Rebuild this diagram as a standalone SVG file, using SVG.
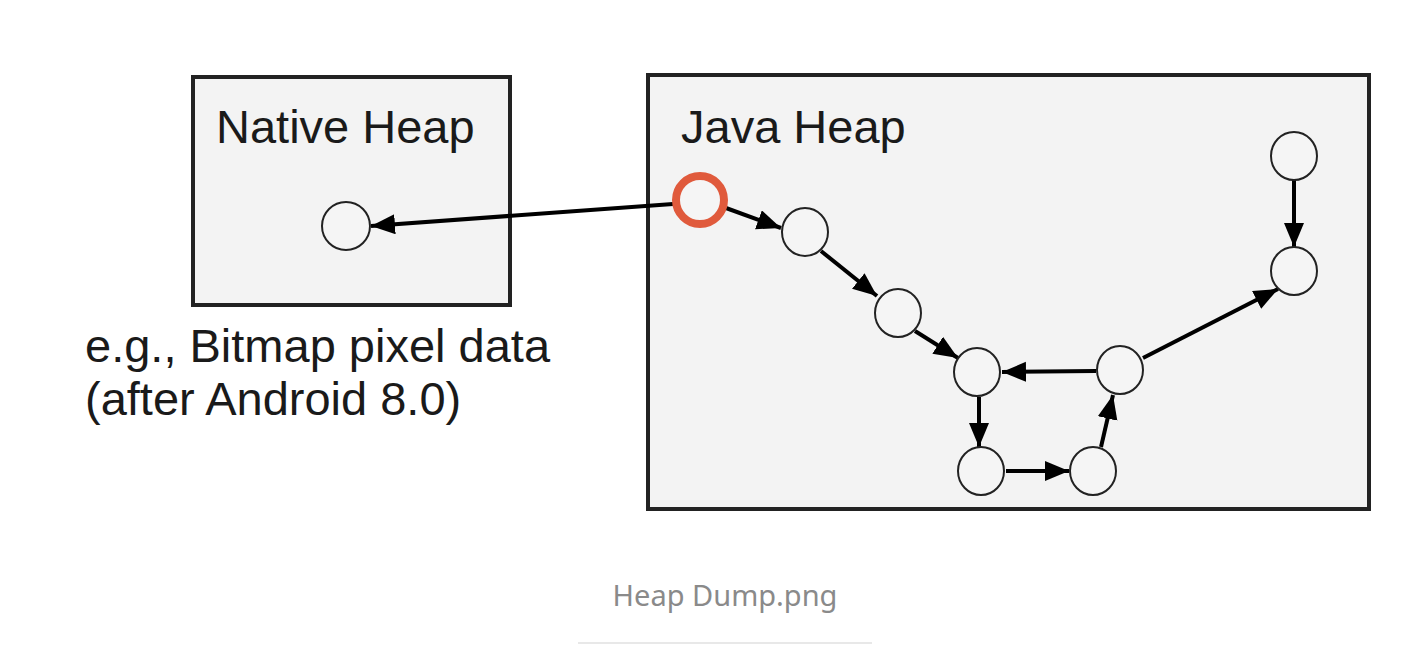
<svg xmlns="http://www.w3.org/2000/svg" width="1412" height="658" viewBox="0 0 1412 658">
<style>
.box{fill:#f3f3f3;stroke:#222;stroke-width:4}
.node{fill:#f5f5f5;stroke:#222;stroke-width:2}
.root{fill:#f5f5f5;stroke:#e05a3c;stroke-width:8}
.lbl{font-family:"Liberation Sans",Arial,sans-serif;font-size:47px;fill:#1a1a1a}
.edge{stroke:#000;stroke-width:4;fill:none;marker-end:url(#ah)}
.cap{font-family:"Noto Sans","Open Sans",sans-serif;font-size:29px;fill:#8a8a8a}
</style>
<defs>
<marker id="ah" markerUnits="userSpaceOnUse" markerWidth="26" markerHeight="22" refX="24" refY="10" orient="auto">
<path d="M0,0 L24,10 L0,20 Z" fill="#000"/>
</marker>
</defs>
<rect width="1412" height="658" fill="#fff"/>
<g id="native-heap">
<rect class="box" x="193" y="77" width="317" height="228"/>
<text class="lbl" x="216" y="143">Native Heap</text>
</g>
<g id="java-heap">
<rect class="box" x="648" y="75" width="721" height="434"/>
<text class="lbl" x="681" y="143">Java Heap</text>
</g>
<g id="caption">
<text class="cap" x="725" y="606" text-anchor="middle">Heap Dump.png</text>
<line x1="578" y1="643" x2="872" y2="643" stroke="#e8e8e8" stroke-width="2"/>
</g>
<g id="note">
<text class="lbl" x="85" y="362">e.g., Bitmap pixel data</text>
<text class="lbl" x="85" y="415">(after Android 8.0)</text>
</g>
<g id="connectors">
<line class="edge" x1="673" y1="204" x2="371" y2="226"/>
<line class="edge" x1="726" y1="208" x2="781" y2="228"/>
<line class="edge" x1="821" y1="251" x2="877" y2="296"/>
<line class="edge" x1="915" y1="331" x2="958" y2="358"/>
<line class="edge" x1="1096" y1="371" x2="1002" y2="372"/>
<line class="edge" x1="979" y1="397" x2="979" y2="447"/>
<line class="edge" x1="1006" y1="471" x2="1069" y2="471"/>
<line class="edge" x1="1101" y1="447" x2="1113" y2="395"/>
<line class="edge" x1="1143" y1="358" x2="1278" y2="289"/>
<line class="edge" x1="1294" y1="180" x2="1294" y2="247"/>
</g>
<g id="n-native"><ellipse class="node" cx="346" cy="226" rx="24" ry="24"/></g>
<g id="n-root"><circle class="root" cx="700" cy="200" r="24"/></g>
<g id="n1"><ellipse class="node" cx="805" cy="232" rx="23" ry="24"/></g>
<g id="n2"><ellipse class="node" cx="898" cy="313" rx="23" ry="24"/></g>
<g id="n3"><ellipse class="node" cx="977" cy="372" rx="23" ry="24"/></g>
<g id="n4"><ellipse class="node" cx="1120" cy="370" rx="23" ry="24"/></g>
<g id="n5"><ellipse class="node" cx="981" cy="471" rx="23" ry="24"/></g>
<g id="n6"><ellipse class="node" cx="1093" cy="471" rx="23" ry="24"/></g>
<g id="n7"><ellipse class="node" cx="1294" cy="156" rx="23" ry="24"/></g>
<g id="n8"><ellipse class="node" cx="1294" cy="271" rx="23" ry="24"/></g>
</svg>
